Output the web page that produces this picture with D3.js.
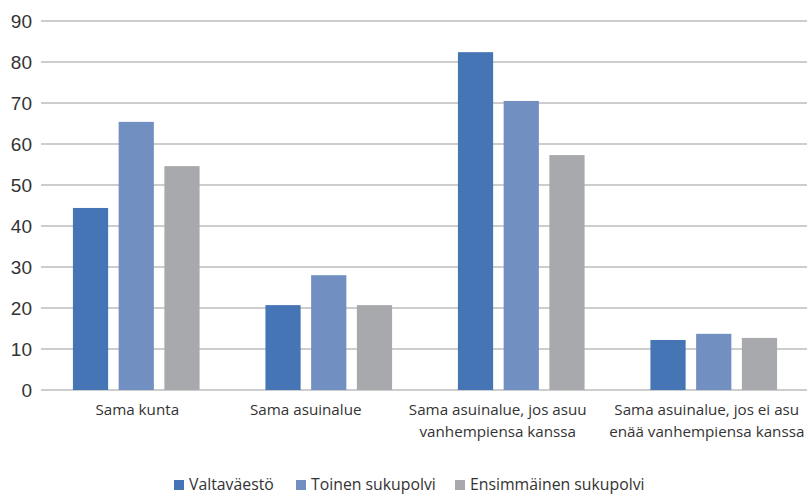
<!DOCTYPE html>
<html>
<head>
<meta charset="utf-8">
<script src="https://cdn.jsdelivr.net/npm/d3@7"></script>
<style>
  body { margin: 0; background: #fff; }
  .ytick text { font-family: "Liberation Sans", Arial, sans-serif; font-size: 19px; fill: #333; }
  .xlab { font-family: "Open Sans", sans-serif; font-size: 15.2px; fill: #333; }
  .legend text { font-family: "Open Sans", sans-serif; font-size: 15.8px; fill: #333; }
</style>
</head>
<body>
<div id="chart"></div>
<script>
  const categories = [
    ["Sama kunta"],
    ["Sama asuinalue"],
    ["Sama asuinalue, jos asuu", "vanhempiensa kanssa"],
    ["Sama asuinalue, jos ei asu", "enää vanhempiensa kanssa"]
  ];
  const seriesNames = ["Valtaväestö", "Toinen sukupolvi", "Ensimmäinen sukupolvi"];
  const valtavaesto = [44.4, 20.7, 82.4, 12.2];
  const toinen = [65.4, 28.0, 70.5, 13.7];
  const ensimmainen = [54.6, 20.7, 57.3, 12.7];
  const yTicks = [0, 10, 20, 30, 40, 50, 60, 70, 80, 90];
  const colors = ["#4675b6", "#718fc0", "#a8a9ac"];

  (function () {
    const w = 807;
    const h = 494;
    const mLeft = 40, mRight = 810, mTop = 21, mBottom = 390;
    const gridRight = 807;
    // labels in the original sit a bit off their bar groups
    const labelShift = [1, -23, -23.5, -7];
    const series = [valtavaesto, toinen, ensimmainen];

    const svg = d3.select("#chart").append("svg")
      .attr("width", w)
      .attr("height", h);

    const x = d3.scaleBand()
      .domain(d3.range(categories.length))
      .range([mLeft, mRight]);

    const x1 = d3.scaleBand()
      .domain(d3.range(series.length))
      .range([0, x.bandwidth()])
      .paddingInner(0.23)
      .paddingOuter(0.72);

    const y = d3.scaleLinear().domain([0, 90]).range([mBottom, mTop]);

    // gridlines + y labels
    const yt = svg.append("g").attr("class", "ytick")
      .selectAll("g").data(yTicks).enter().append("g");
    yt.append("line")
      .attr("x1", 41).attr("x2", gridRight)
      .attr("y1", (d) => y(d)).attr("y2", (d) => y(d))
      .attr("stroke", "#bdbdbd").attr("stroke-width", 1.6);
    yt.append("text")
      .attr("x", 32).attr("y", (d) => y(d))
      .attr("dy", "0.36em")
      .attr("text-anchor", "end")
      .text((d) => d);

    // bars
    categories.forEach((c, i) => {
      series.forEach((s, j) => {
        svg.append("rect")
          .attr("x", x(i) + x1(j))
          .attr("width", x1.bandwidth())
          .attr("y", y(s[i]))
          .attr("height", y(0) - y(s[i]))
          .attr("fill", colors[j]);
      });
    });

    // category labels
    categories.forEach((c, i) => {
      const cx = x(i) + x.bandwidth() / 2 + labelShift[i];
      const t = svg.append("text").attr("class", "xlab")
        .attr("text-anchor", "middle")
        .attr("x", cx)
        .attr("y", 415);
      c.forEach((line, k) => {
        t.append("tspan")
          .attr("x", cx)
          .attr("dy", k === 0 ? 0 : 22)
          .text(line);
      });
    });

    // legend
    const legX = [174, 296, 455];
    const leg = svg.append("g").attr("class", "legend");
    seriesNames.forEach((n, j) => {
      leg.append("rect")
        .attr("x", legX[j]).attr("y", 480)
        .attr("width", 10).attr("height", 10)
        .attr("fill", colors[j]);
      leg.append("text")
        .attr("x", legX[j] + 15).attr("y", 489.5)
        .text(n);
    });
  })();
</script>
</body>
</html>
